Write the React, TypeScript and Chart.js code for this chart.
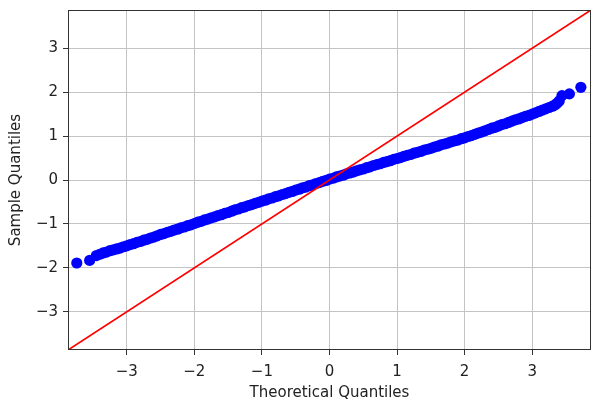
import React, { useEffect, useRef } from "react";
import { Chart, registerables } from "chart.js";

Chart.register(...registerables);

// Theoretical quantiles (x)
const theoretical: number[] = [
  -3.74, -3.55, -3.45, -3.40,
  -3.35, -3.30, -3.25, -3.20, -3.15, -3.10, -3.05, -3.00,
  -2.95, -2.90, -2.85, -2.80, -2.75, -2.70, -2.65, -2.60, -2.55, -2.50,
  -2.45, -2.40, -2.35, -2.30, -2.25, -2.20, -2.15, -2.10, -2.05, -2.00,
  -1.95, -1.90, -1.85, -1.80, -1.75, -1.70, -1.65, -1.60, -1.55, -1.50,
  -1.45, -1.40, -1.35, -1.30, -1.25, -1.20, -1.15, -1.10, -1.05, -1.00,
  -0.95, -0.90, -0.85, -0.80, -0.75, -0.70, -0.65, -0.60, -0.55, -0.50,
  -0.45, -0.40, -0.35, -0.30, -0.25, -0.20, -0.15, -0.10, -0.05, 0.00,
  0.05, 0.10, 0.15, 0.20, 0.25, 0.30, 0.35, 0.40, 0.45, 0.50,
  0.55, 0.60, 0.65, 0.70, 0.75, 0.80, 0.85, 0.90, 0.95, 1.00,
  1.05, 1.10, 1.15, 1.20, 1.25, 1.30, 1.35, 1.40, 1.45, 1.50,
  1.55, 1.60, 1.65, 1.70, 1.75, 1.80, 1.85, 1.90, 1.95, 2.00,
  2.05, 2.10, 2.15, 2.20, 2.25, 2.30, 2.35, 2.40, 2.45, 2.50,
  2.55, 2.60, 2.65, 2.70, 2.75, 2.80, 2.85, 2.90, 2.95, 3.00,
  3.05, 3.10, 3.15, 3.20, 3.25, 3.30,
  3.34, 3.37, 3.40, 3.44, 3.55, 3.72,
];

// Sample quantiles (y)
const sample: number[] = [
  -1.89, -1.83, -1.72, -1.69,
  -1.66, -1.64, -1.61, -1.59, -1.57, -1.55, -1.52, -1.50,
  -1.47, -1.45, -1.42, -1.40, -1.37, -1.35, -1.32, -1.30, -1.27, -1.24,
  -1.22, -1.19, -1.17, -1.14, -1.12, -1.09, -1.07, -1.04, -1.02, -0.99,
  -0.96, -0.94, -0.91, -0.89, -0.86, -0.84, -0.81, -0.79, -0.76, -0.74,
  -0.71, -0.68, -0.66, -0.63, -0.61, -0.58, -0.56, -0.53, -0.51, -0.48,
  -0.46, -0.43, -0.41, -0.38, -0.36, -0.33, -0.31, -0.28, -0.26, -0.23,
  -0.21, -0.18, -0.16, -0.13, -0.11, -0.08, -0.06, -0.03, -0.01, 0.02,
  0.04, 0.07, 0.09, 0.11, 0.14, 0.16, 0.18, 0.21, 0.23, 0.25,
  0.28, 0.30, 0.33, 0.35, 0.37, 0.40, 0.42, 0.44, 0.47, 0.49,
  0.51, 0.54, 0.56, 0.58, 0.61, 0.63, 0.65, 0.68, 0.70, 0.72,
  0.75, 0.77, 0.80, 0.82, 0.84, 0.87, 0.89, 0.91, 0.94, 0.96,
  0.99, 1.01, 1.04, 1.07, 1.09, 1.12, 1.15, 1.18, 1.20, 1.23,
  1.26, 1.28, 1.31, 1.34, 1.37, 1.39, 1.42, 1.45, 1.47, 1.50,
  1.53, 1.56, 1.59, 1.62, 1.65, 1.68,
  1.71, 1.75, 1.80, 1.92, 1.96, 2.11,
];

// 45-degree reference line end points
const refLine: number[] = [-3.87, 3.87];

const axisLimits: number[] = [-3.87, 3.87];
const xTicks: number[] = [-3, -2, -1, 0, 1, 2, 3];
const yTicks: number[] = [-3, -2, -1, 0, 1, 2, 3];

const FONT = "'DejaVu Sans', sans-serif";
const TEXT = "#222222";
const FS = 15;

const fmt = (v: number | string) => String(v).replace("-", "\u2212");

const frame = {
  id: "frame",
  afterDatasetsDraw(chart: any) {
    const { ctx, chartArea } = chart;
    ctx.save();
    ctx.strokeStyle = "#333333";
    ctx.lineWidth = 1;
    ctx.strokeRect(
      Math.round(chartArea.left) + 0.5,
      Math.round(chartArea.top) + 0.5,
      Math.round(chartArea.right - chartArea.left) - 1,
      Math.round(chartArea.bottom - chartArea.top) - 1
    );
    ctx.restore();
  },
};

export default function App() {
  const ref = useRef<HTMLCanvasElement | null>(null);

  useEffect(() => {
    document.body.style.margin = "0";
    if (!ref.current) return;
    const points = theoretical.map((x, i) => ({ x, y: sample[i] }));
    const line = refLine.map((v) => ({ x: v, y: v }));
    const chart = new Chart(ref.current, {
      type: "scatter",
      data: {
        datasets: [
          {
            type: "line",
            data: line,
            showLine: true,
            borderColor: "#ff0000",
            borderWidth: 1.7,
            pointRadius: 0,
            fill: false,
            order: 0,
          } as any,
          {
            data: points,
            backgroundColor: "#0000ff",
            borderColor: "#0000ff",
            borderWidth: 0,
            pointRadius: 5.6,
            order: 1,
          },
        ],
      },
      plugins: [frame],
      options: {
        animation: false,
        responsive: false,
        devicePixelRatio: 1,
        layout: { padding: { left: 0, right: 9, top: 10, bottom: 0 } },
        plugins: { legend: { display: false }, tooltip: { enabled: false } },
        scales: {
          x: {
            type: "linear",
            min: axisLimits[0],
            max: axisLimits[1],
            afterBuildTicks: (s: any) => {
              s.ticks = xTicks.map((v) => ({ value: v }));
            },
            afterFit: (s: any) => {
              s.height = 60;
              s.paddingLeft = 0;
              s.paddingRight = 0;
            },
            grid: {
              color: "#c4c4c4",
              lineWidth: 1,
              tickColor: "#333333",
              tickLength: 5,
              drawTicks: true,
            },
            border: { display: false },
            ticks: {
              color: TEXT,
              font: { family: FONT, size: FS },
              padding: 8,
              maxRotation: 0,
              callback: (v: any) => fmt(v),
            },
            title: {
              display: true,
              text: "Theoretical Quantiles",
              color: TEXT,
              font: { family: FONT, size: FS },
              padding: { top: 0, bottom: 8 },
            },
          },
          y: {
            type: "linear",
            min: axisLimits[0],
            max: axisLimits[1],
            afterBuildTicks: (s: any) => {
              s.ticks = yTicks.map((v) => ({ value: v }));
            },
            afterFit: (s: any) => {
              s.width = 68;
              s.paddingTop = 0;
              s.paddingBottom = 0;
            },
            grid: {
              color: "#c4c4c4",
              lineWidth: 1,
              tickColor: "#333333",
              tickLength: 5,
              drawTicks: true,
            },
            border: { display: false },
            ticks: {
              color: TEXT,
              font: { family: FONT, size: FS },
              padding: 5,
              callback: (v: any) => fmt(v),
            },
            title: {
              display: true,
              text: "Sample Quantiles",
              color: TEXT,
              font: { family: FONT, size: FS },
              padding: { top: 7, bottom: 0 },
            },
          },
        },
      },
    });
    return () => chart.destroy();
  }, []);

  return (
    <div style={{ width: 600, height: 410, background: "#ffffff" }}>
      <canvas ref={ref} width={600} height={410} style={{ display: "block" }} />
    </div>
  );
}
